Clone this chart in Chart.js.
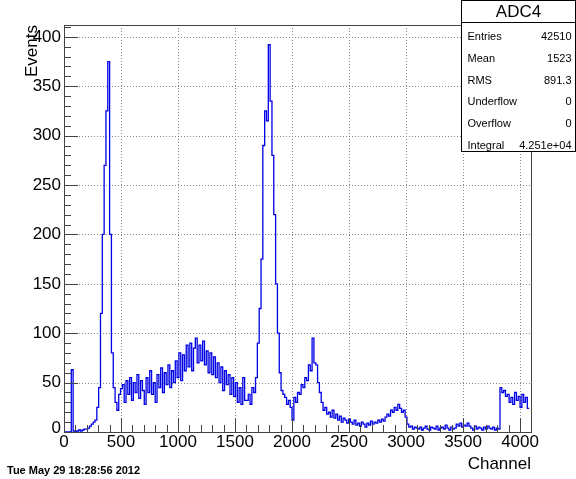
<!DOCTYPE html>
<html>
<head>
<meta charset="utf-8">
<script src="https://cdn.jsdelivr.net/npm/chart.js@4"></script>
<style>
  body { margin: 0; background: #fff; }
  #wrap { width: 576px; height: 479px; }
</style>
</head>
<body>
<div id="wrap"><canvas id="adc" width="576" height="479"></canvas></div>
<script>
// histogram ADC4, 16 channels per bin, 256 bins over 0..4096
const binWidth = 16;
const counts = [
  0, 0, 0, 0, 63, 1, 0, 1, 2, 1, 2, 3, 3,            // 0 - 207
  4, 6, 8, 10, 12, 25,                               // 208 - 303
  45, 120, 200, 270, 325, 375, 200, 80, 45, 30, 22, 38, 44,   // first peak
  48, 30, 52, 38, 55, 32, 50, 40, 58, 34, 52, 42,
  28, 55, 40, 62, 38, 50, 30, 58, 45, 65, 40, 60,
  48, 68, 45, 62, 50, 72, 55, 80, 52, 78, 62, 88,
  66, 90, 62, 85, 95, 70, 88, 72, 92, 68, 82, 60,
  80, 58, 76, 55, 70, 50, 66, 42, 62, 48, 58, 38,
  55, 36, 50, 30, 45, 28, 55, 32,                    // .. 1599
  32, 38, 28, 45, 40, 55, 90, 125, 175, 290, 325, 315,
  392, 335, 280, 220, 150, 100, 60, 42, 38,          // second peak
  35, 28, 32, 25, 12, 35, 30, 40, 38, 48, 45, 55, 52,
  68, 62, 95, 70, 68, 50, 40, 30, 22, 25, 18, 20,    // third peak
  15, 22, 14, 18, 12, 16, 10, 14, 12, 9, 13,
  10, 8, 12, 7, 9, 6, 10, 8, 5, 9, 7, 11, 8, 10, 9, 12, 10, 13, 11,
  15, 18, 16, 22, 20, 25, 22, 28, 24, 20, 22, 15,    // bump near 2900
  8, 5, 6, 3, 5, 4,
  3, 5, 2, 4, 6, 3, 2, 5, 4, 3, 6, 2, 4, 5, 3, 7, 4, 2, 5, 3, 4,
  8, 6, 9, 5, 7, 6, 9, 6,
  4, 2, 6, 3, 5, 4, 2, 5, 3, 6, 4, 3, 5, 2, 4, 3,
  45, 40, 42, 36, 38, 30, 35, 28, 40, 32, 36, 25, 38, 30, 35, 24  // 3840 - 4095
];

const xTicks = [0, 500, 1000, 1500, 2000, 2500, 3000, 3500, 4000];
const yTicks = [0, 50, 100, 150, 200, 250, 300, 350, 400];

const statsTitle = "ADC4";
const statsLabels = ["Entries", "Mean", "RMS", "Underflow", "Overflow", "Integral"];
const statsValues = ["42510", "1523", "891.3", "0", "0", "4.251e+04"];

const dateText = "Tue May 29 18:28:56 2012";

const points = counts.map((c, i) => ({ x: i * binWidth, y: c }));
points.push({ x: counts.length * binWidth, y: counts[counts.length - 1] });

const FONT = "'Liberation Sans', Arial, sans-serif";

const rootStyle = {
  id: "rootStyle",
  beforeDatasetsDraw(chart) {
    const { ctx, chartArea: a, scales: { x, y } } = chart;
    ctx.save();
    ctx.strokeStyle = "#8a8a8a";
    ctx.lineWidth = 1;
    ctx.setLineDash([1, 2]);
    xTicks.forEach(v => {
      if (v === 0) return;
      const px = Math.round(x.getPixelForValue(v)) + 0.5;
      ctx.beginPath(); ctx.moveTo(px, a.top); ctx.lineTo(px, a.bottom); ctx.stroke();
    });
    yTicks.forEach(v => {
      if (v === 0) return;
      const py = Math.round(y.getPixelForValue(v)) + 0.5;
      ctx.beginPath(); ctx.moveTo(a.left, py); ctx.lineTo(a.right, py); ctx.stroke();
    });
    ctx.restore();
  },
  afterDatasetsDraw(chart) {
    const { ctx, chartArea: a, scales: { x, y } } = chart;
    ctx.save();
    ctx.strokeStyle = "#444";
    ctx.lineWidth = 1;
    ctx.strokeRect(a.left + 0.5, a.top + 0.5, a.right - a.left, a.bottom - a.top);

    // inward ticks
    ctx.beginPath();
    for (let v = 0; v <= x.max; v += 100) {
      const px = Math.round(x.getPixelForValue(v)) + 0.5;
      const len = v % 500 === 0 ? 14 : 7;
      ctx.moveTo(px, a.bottom); ctx.lineTo(px, a.bottom - len);
    }
    for (let v = 0; v <= y.max; v += 10) {
      const py = Math.round(y.getPixelForValue(v)) + 0.5;
      const len = v % 50 === 0 ? 14 : 7;
      ctx.moveTo(a.left, py); ctx.lineTo(a.left + len, py);
    }
    ctx.stroke();

    // tick labels
    ctx.fillStyle = "#000";
    ctx.font = "17px " + FONT;
    ctx.textAlign = "center";
    ctx.textBaseline = "top";
    xTicks.forEach(v => ctx.fillText(String(v), x.getPixelForValue(v), a.bottom + 2));
    ctx.textAlign = "right";
    ctx.textBaseline = "middle";
    yTicks.forEach(v => ctx.fillText(String(v), a.left - 3, y.getPixelForValue(v) - (v === 0 ? 4 : 0)));

    // axis titles
    ctx.textAlign = "right";
    ctx.textBaseline = "alphabetic";
    ctx.fillText("Channel", a.right, a.bottom + 37);
    ctx.save();
    ctx.translate(37, a.top);
    ctx.rotate(-Math.PI / 2);
    ctx.textAlign = "right";
    ctx.fillText("Events", 0, 0);
    ctx.restore();

    // date stamp
    ctx.font = "bold 11px " + FONT;
    ctx.textAlign = "left";
    ctx.fillText(dateText, 7, 474);

    // stats box
    const bx = 461.5, by = 0.5, bw = 114, bh = 151;
    ctx.fillStyle = "#fff";
    ctx.fillRect(bx, by, bw, bh);
    ctx.strokeStyle = "#000";
    ctx.strokeRect(bx, by, bw, bh);
    ctx.beginPath(); ctx.moveTo(bx, 22.5); ctx.lineTo(bx + bw, 22.5); ctx.stroke();
    ctx.fillStyle = "#000";
    ctx.font = "17px " + FONT;
    ctx.textAlign = "center";
    ctx.textBaseline = "middle";
    ctx.fillText(statsTitle, bx + bw / 2, 12);
    ctx.font = "11px " + FONT;
    statsLabels.forEach((lab, i) => {
      const ty = 37 + i * 21.8;
      ctx.textAlign = "left";
      ctx.fillText(lab, bx + 6, ty);
      ctx.textAlign = "right";
      ctx.fillText(statsValues[i], bx + bw - 4, ty);
    });
    ctx.restore();
  }
};

new Chart(document.getElementById("adc"), {
  type: "line",
  data: {
    datasets: [{
      label: "ADC4",
      data: points,
      borderColor: "#0000e6",
      borderWidth: 1.3,
      pointRadius: 0,
      fill: false,
      stepped: true
    }]
  },
  options: {
    responsive: false,
    animation: false,
    layout: { padding: { left: 64, right: 45, top: 25, bottom: 47 } },
    plugins: { legend: { display: false }, tooltip: { enabled: false } },
    scales: {
      x: { type: "linear", min: 0, max: 4096, display: false },
      y: { type: "linear", min: 0, max: 412, display: false }
    }
  },
  plugins: [rootStyle]
});
</script>
</body>
</html>
